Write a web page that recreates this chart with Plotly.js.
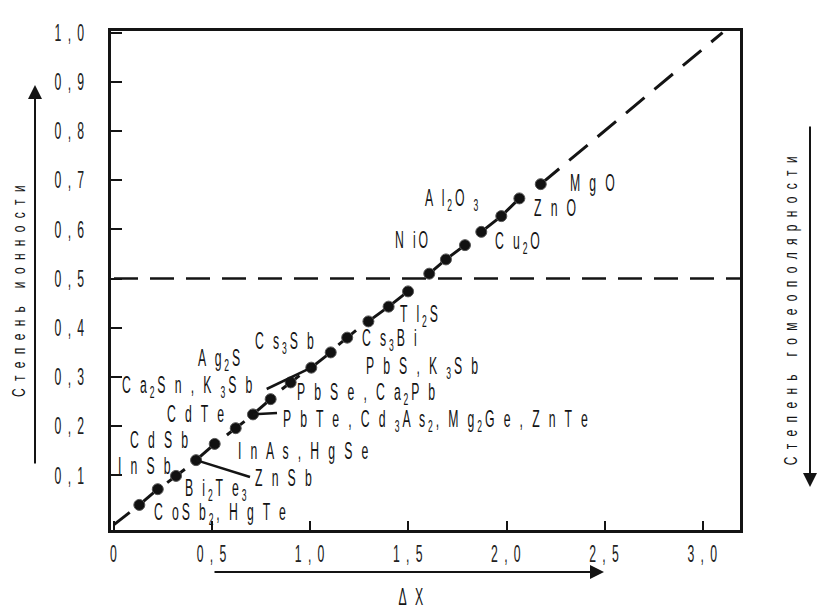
<!DOCTYPE html>
<html><head><meta charset="utf-8">
<script src="https://cdn.plot.ly/plotly-3.0.1.min.js"></script>
<style>body{margin:0;background:#fff}</style>
</head><body>
<div id="chart" style="width:820px;height:610px"></div>
<script>
// ---- data ----
const dotX = [0.129,0.223,0.316,0.418,0.513,0.620,0.708,0.798,0.900,1.005,1.104,1.188,1.296,1.399,1.498,1.606,1.691,1.788,1.871,1.973,2.065,2.174];
const dotY = [0.040,0.072,0.099,0.131,0.164,0.196,0.224,0.255,0.289,0.319,0.350,0.380,0.413,0.443,0.474,0.510,0.539,0.568,0.595,0.627,0.663,0.692];
const solidGroups = [[0,1],[3,4],[6,7],[9,10],[12,13,14],[15,16,17],[18,19,20]];
const singleDots = [2,5,8,11];
const csfX = 3.1, csfY = 1.0;
const boundaryLevel = 0.5;
const xTickVals = [0,0.5,1,1.5,2,2.5,3];
const xTickText = ['0','0 , 5','1 , 0','1 , 5','2 , 0','2 , 5','3 , 0'];
const yTickVals = [0.1,0.2,0.3,0.4,0.5,0.6,0.7,0.8,0.9,1.0];
const yTickText = ['0 , 1','0 , 2','0 , 3','0 , 4','0 , 5','0 , 6','0 , 7','0 , 8','0 , 9','1 , 0'];
const compoundLabels = [
  'M g O','Z n O','A l<sub>2</sub>O <sub>3</sub>','N iO','C u<sub>2</sub>O','T l<sub>2</sub>S',
  'C s<sub>3</sub>B i','C s<sub>3</sub>S b','A g<sub>2</sub>S','P b S , K <sub>3</sub>S b',
  'C a<sub>2</sub>S n , K <sub>3</sub>S b','P b S e , C a<sub>2</sub>P b','C d T e',
  'P b T e , C d <sub>3</sub>A s<sub>2</sub>, M g<sub>2</sub>G e , Z n T e',
  'C d S b','I n A s , H g S e','I n S b','Z n S b','B i<sub>2</sub>T e<sub>3</sub>',
  'C oS b<sub>2</sub>, H g T e'
];
const csfLabel = 'C s F';
const yTitleLeft = 'С т е п е н ь   и о н н о с т и';
const yTitleRight = 'С т е п е н ь   г о м е о п о л я р н о с т и';
const xTitle = 'Δ X';

// ---- layout helpers (pixel -> data) ----
const PX0 = 114, PXS = 196.3, PY0 = 524.6, PYS = 492;
const X = px => (px - PX0) / PXS;
const Y = py => (PY0 - py) / PYS;
const FONT = 'Liberation Sans, Arial, sans-serif';
const INK = '#141414';

const traces = [];
const lineStyle = {color: INK, width: 3};
traces.push({x:[0, dotX[0]*0.62], y:[0, dotY[0]*0.62], mode:'lines', line:lineStyle, hoverinfo:'skip'});
solidGroups.forEach(g => traces.push({x:g.map(i=>dotX[i]), y:g.map(i=>dotY[i]), mode:'lines', line:lineStyle, hoverinfo:'skip'}));
const half = 0.045;
singleDots.forEach(i => {
  const s = (dotY[i+1]-dotY[i-1])/(dotX[i+1]-dotX[i-1]);
  traces.push({x:[dotX[i]-half, dotX[i]+half], y:[dotY[i]-half*s, dotY[i]+half*s], mode:'lines', line:lineStyle, hoverinfo:'skip'});
});
const last = dotX.length-1;
traces.push({x:[dotX[last], csfX], y:[dotY[last], csfY], mode:'lines', line:{color:INK, width:3, dash:'24px,13px'}, hoverinfo:'skip'});
traces.push({x:[0, 3.19], y:[boundaryLevel, boundaryLevel], mode:'lines', line:{color:INK, width:2.5, dash:'24px,12px'}, hoverinfo:'skip'});
traces.push({x:dotX, y:dotY, mode:'markers', marker:{size:11, color:'#111', line:{color:'#555', width:1}}, hoverinfo:'skip'});

const labelPos = [
  [568,183],[532,208],[423,200],[393,240],[493,243],[398,316],
  [360,340],[253,343],[196,360],[364,368],
  [120,387],[295,394],[165,414],
  [281,421],
  [128,440],[236,451],[116,466],[253,478],[183,490],
  [152,514]
];
const labelFont = {family: FONT, size: 17, color: INK};
const annotations = compoundLabels.map((t,k) => ({
  text:t, x:X(labelPos[k][0]), y:Y(labelPos[k][1]), xref:'x', yref:'y',
  xanchor:'left', yanchor:'middle', showarrow:false, font:labelFont
}));
annotations.push({text:csfLabel, x:X(697), y:Y(13), xref:'x', yref:'y', xanchor:'left', yanchor:'middle', showarrow:false, font:labelFont});

const W = 629, H = 499;
const px2p = px => (px-111)/W, py2p = py => (530-py)/H;
const arrow = (hx,hy,ax,ay) => ({text:'', x:px2p(hx), y:py2p(hy), xref:'paper', yref:'paper', ax:ax, ay:ay,
  showarrow:true, arrowhead:2, arrowsize:1.4, arrowwidth:2, arrowcolor:INK, standoff:0, startstandoff:0});
annotations.push(arrow(35,85,0,380));
annotations.push(arrow(604,572,-391,0));
annotations.push(arrow(810,487,0,-362));
const titleFont = {family:FONT, size:15, color:INK};
annotations.push({text:yTitleLeft, x:px2p(18), y:py2p(290), xref:'paper', yref:'paper', xanchor:'center', yanchor:'middle', textangle:-90, showarrow:false, font:titleFont});
annotations.push({text:yTitleRight, x:px2p(790), y:py2p(310), xref:'paper', yref:'paper', xanchor:'center', yanchor:'middle', textangle:-90, showarrow:false, font:titleFont});
annotations.push({text:xTitle, x:px2p(412), y:py2p(597), xref:'paper', yref:'paper', xanchor:'center', yanchor:'middle', showarrow:false, font:labelFont});

const shapes = [
  {type:'line', x0:X(266.7), y0:Y(389), x1:dotX[9], y1:dotY[9], line:{color:INK, width:2.5}},
  {type:'line', x0:dotX[3], y0:dotY[3], x1:X(250), y1:Y(477), line:{color:INK, width:2.5}},
  {type:'line', x0:dotX[6], y0:dotY[6], x1:X(277), y1:Y(413), line:{color:INK, width:2.5}}
];

const tickFont = {family: FONT, size: 17, color: '#222'};
const layout = {
  width:820, height:610,
  margin:{l:111, r:80, t:31, b:80, pad:0},
  paper_bgcolor:'#fff', plot_bgcolor:'#fff',
  showlegend:false,
  xaxis:{range:[X(111), X(740)], tickvals:xTickVals, ticktext:xTickText, ticks:'inside', ticklen:9, tickwidth:2, tickcolor:INK,
    showline:true, mirror:true, linewidth:3, linecolor:INK, showgrid:false, zeroline:false, tickfont:tickFont, ticklabelstandoff:6, fixedrange:true},
  yaxis:{range:[Y(530), Y(31)], tickvals:yTickVals, ticktext:yTickText, ticks:'inside', ticklen:11, tickwidth:2, tickcolor:INK,
    showline:true, mirror:true, linewidth:3, linecolor:INK, showgrid:false, zeroline:false, tickfont:tickFont, ticklabelstandoff:19, fixedrange:true},
  annotations:annotations,
  shapes:shapes
};

// condensed, tall lettering like the original print; keeps the anchor point fixed
function anchorX(b, origin) {
  if (origin === 'start') return b.x;
  if (origin === 'end') return b.x + b.width;
  return b.x + b.width/2;
}
function condense(el, sx, sy, ls, origin) {
  const b0 = el.getBBox();
  el.style.letterSpacing = ls + 'px';
  const b1 = el.getBBox();
  const ox0 = anchorX(b0, origin), ox1 = anchorX(b1, origin);
  const oy = b0.y + b0.height/2;
  const t = el.getAttribute('transform') || '';
  el.setAttribute('transform', t + ` translate(${ox0},${oy}) scale(${sx},${sy}) translate(${-ox1},${-oy})`);
}

Plotly.newPlot('chart', traces, layout, {displayModeBar:false, staticPlot:true}).then(gd => {
  gd.querySelectorAll('.xtick text').forEach(el => condense(el, 0.72, 1.4, 2, 'middle'));
  gd.querySelectorAll('.ytick text').forEach(el => condense(el, 0.72, 1.4, 2, 'end'));
  gd.querySelectorAll('g.annotation').forEach(g => {
    const idx = +g.getAttribute('data-index');
    const a = annotations[idx];
    const el = g.querySelector('text.annotation-text');
    if (!el || !a || !a.text) return;
    if (a.textangle === -90) condense(el, 0.8, 1.2, 2.5, 'middle');
    else condense(el, 0.72, 1.42, 4, a.xanchor === 'left' ? 'start' : 'middle');
  });
});
</script>
</body></html>
